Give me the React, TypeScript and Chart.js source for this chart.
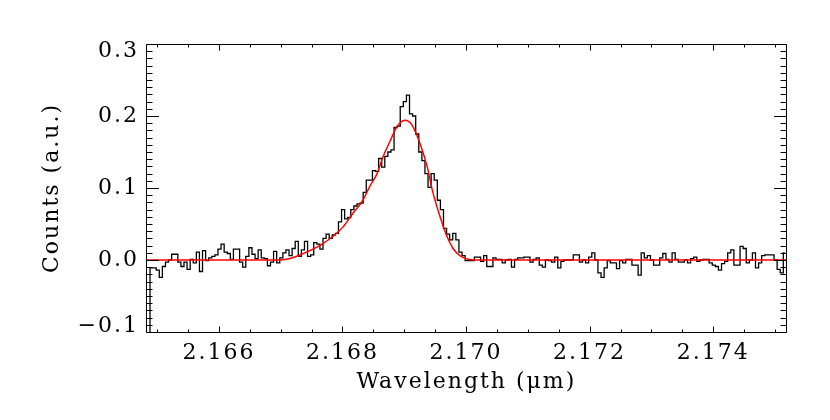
import React, { useEffect, useRef } from 'react';
import { Chart, registerables } from 'chart.js';

Chart.register(...registerables);

// ---- data ----
const BIN_START = 2.16486; // wavelength of the first bin (um)
const BIN_WIDTH = 0.00005; // bin width (um)
const COUNTS = [
  -0.2, -0.011, -0.011, -0.014, -0.024, -0.009, -0.003, 0.0, 0.008, 0.008,
  -0.003, -0.009, -0.003, -0.013, 0.001, -0.004, 0.011, -0.016, 0.013, -0.001,
  0.003, 0.005, 0.007, 0.015, 0.022, 0.011, 0.009, 0.001, 0.015, 0.015,
  -0.003, -0.01, 0.005, 0.017, 0.008, 0.002, 0.014, 0.003, 0.002, -0.008,
  -0.003, 0.012, -0.004, 0.003, 0.01, 0.014, 0.006, 0.016, 0.026, 0.005,
  0.014, 0.026, 0.005, 0.007, 0.024, 0.022, 0.015, 0.03, 0.036, 0.03,
  0.035, 0.037, 0.053, 0.07, 0.057, 0.059, 0.07, 0.075, 0.078, 0.079,
  0.094, 0.111, 0.111, 0.124, 0.123, 0.141, 0.129, 0.144, 0.15, 0.153,
  0.184, 0.186, 0.213, 0.22, 0.229, 0.203, 0.2, 0.175, 0.15, 0.138,
  0.12, 0.101, 0.12, 0.111, 0.083, 0.07, 0.044, 0.036, 0.028, 0.037,
  0.028, 0.011, 0.006, -0.001, -0.001, -0.001, 0.004, 0.004, -0.002, 0.006,
  -0.009, -0.009, 0.003, 0.001, 0.001, -0.004, 0.0, 0.001, -0.01, 0.001,
  0.003, 0.003, 0.004, 0.004, -0.003, 0.001, 0.003, -0.007, -0.01, 0.0,
  -0.001, -0.003, 0.004, -0.011, -0.002, 0.0, 0.0, 0.0, 0.007, 0.007,
  -0.003, 0.0, -0.004, 0.004, 0.01, 0.0, -0.018, -0.024, -0.011, -0.001,
  -0.004, -0.004, -0.012, -0.001, -0.004, 0.001, 0.001, -0.007, -0.007, -0.021,
  0.01, 0.003, 0.006, 0.0, -0.007, -0.007, 0.003, 0.009, 0.001, -0.003,
  0.01, 0.001, -0.003, -0.003, 0.0, -0.004, 0.002, 0.004, -0.002, 0.0,
  0.001, 0.001, -0.004, -0.007, -0.009, -0.014, -0.005, -0.002, 0.01, 0.014,
  -0.007, -0.007, 0.019, 0.016, -0.004, 0.0, 0.01, -0.011, -0.004, 0.006,
  0.007, 0.007, 0.007, 0.0, -0.013, -0.018, 0.01,
];

const FIT_WAVELENGTHS = [
  2.16482, 2.16699, 2.16715, 2.16731, 2.16763, 2.16785, 2.16801, 2.16817,
  2.16833, 2.16844, 2.16856, 2.16865, 2.16877, 2.16888, 2.16901, 2.16912,
  2.16925, 2.16937, 2.16946, 2.16958, 2.16969, 2.16979, 2.1699, 2.17003,
  2.17016, 2.17519,
];
const FIT_VALUES = [
  0.0, 0.0, 0.002, 0.007, 0.02, 0.033, 0.046, 0.065,
  0.083, 0.102, 0.12, 0.142, 0.165, 0.185, 0.194, 0.188,
  0.163, 0.13, 0.095, 0.06, 0.033, 0.016, 0.006, 0.001,
  0.0, 0.0,
];

const X_MIN = 2.16482;
const X_MAX = 2.17519;
const Y_MIN = -0.1;
const Y_MAX = 0.3;
const X_TICKS = [2.166, 2.168, 2.17, 2.172, 2.174];
const X_TICK_LABELS = ['2.166', '2.168', '2.170', '2.172', '2.174'];
const Y_TICKS = [-0.1, 0.0, 0.1, 0.2, 0.3];
const Y_TICK_LABELS = ['\u22120.1', '0.0', '0.1', '0.2', '0.3'];
const X_MINOR_STEP = 0.0005;
const Y_MINOR_STEP = 0.01;
const X_TITLE = 'Wavelength (\u03bcm)';
const Y_TITLE = 'Counts (a.u.)';

const FONT = 'DejaVu Serif';
const FONT_SIZE = 22;

const framePlugin = {
  id: 'frame',
  beforeDraw(chart: any) {
    const ctx = chart.ctx;
    ctx.letterSpacing = '2px';
    const ys = chart.scales.y;
    const items = ys.getLabelItems(chart.chartArea);
    items.forEach((it: any) => {
      if (it._adj) return;
      if (it.label === '0.3') it.options.translation[1] += 7;
      if (it.label === '\u22120.1') it.options.translation[1] -= 6;
      it._adj = true;
    });
  },
  afterDraw(chart: any) {
    const ctx = chart.ctx;
    const { left, right, top, bottom } = chart.chartArea;
    const xs = chart.scales.x;
    const ys = chart.scales.y;
    const L = Math.round(left) + 0.5;
    const R = Math.round(right) - 0.5;
    const T = Math.round(top) + 0.5;
    const B = Math.round(bottom) + 0.5;
    ctx.save();
    ctx.strokeStyle = '#000';
    ctx.lineWidth = 1;
    ctx.beginPath();
    ctx.rect(L, T, R - L, B - T);
    const xMajor = 6, xMinor = 3, yMajor = 12.5, yMinor = 6;
    const k0 = Math.ceil(X_MIN / X_MINOR_STEP - 1e-6);
    const k1 = Math.floor(X_MAX / X_MINOR_STEP + 1e-6);
    for (let k = k0; k <= k1; k++) {
      const v = k * X_MINOR_STEP;
      const px = Math.round(xs.getPixelForValue(v)) + 0.5;
      const major = X_TICKS.some((t) => Math.abs(t - v) < 1e-7);
      const len = major ? xMajor : xMinor;
      ctx.moveTo(px, B);
      ctx.lineTo(px, B - len);
      ctx.moveTo(px, T);
      ctx.lineTo(px, T + len);
    }
    const j0 = Math.ceil(Y_MIN / Y_MINOR_STEP - 1e-6);
    const j1 = Math.floor(Y_MAX / Y_MINOR_STEP + 1e-6);
    for (let j = j0; j <= j1; j++) {
      const v = j * Y_MINOR_STEP;
      const py = Math.round(ys.getPixelForValue(v)) + 0.5;
      const major = Y_TICKS.some((t) => Math.abs(t - v) < 1e-7);
      const len = major ? yMajor : yMinor;
      ctx.moveTo(L, py);
      ctx.lineTo(L + len, py);
      ctx.moveTo(R, py);
      ctx.lineTo(R - len, py);
    }
    ctx.stroke();
    ctx.restore();
  },
};

export default function App() {
  const ref = useRef<HTMLCanvasElement | null>(null);
  useEffect(() => {
    if (!ref.current) return;
    const hist = COUNTS.map((v, i) => ({ x: BIN_START + i * BIN_WIDTH, y: v }));
    const fit = FIT_WAVELENGTHS.map((w, i) => ({ x: w, y: FIT_VALUES[i] }));
    const chart = new Chart(ref.current, {
      type: 'line',
      data: {
        datasets: [
          {
            label: 'fit',
            data: fit,
            borderColor: '#ff0000',
            borderWidth: 1.5,
            pointRadius: 0,
            fill: false,
            cubicInterpolationMode: 'monotone',
          },
          {
            label: 'spectrum',
            data: hist,
            borderColor: '#000000',
            borderWidth: 1.3,
            pointRadius: 0,
            fill: false,
            stepped: 'middle',
          },
        ],
      },
      options: {
        animation: false,
        responsive: false,
        devicePixelRatio: 1,
        layout: { padding: { left: 0, top: 44, right: 43.3, bottom: 0 } },
        plugins: { legend: { display: false }, tooltip: { enabled: false }, title: { display: false } },
        scales: {
          x: {
            type: 'linear',
            min: X_MIN,
            max: X_MAX,
            grid: { display: false, drawTicks: false },
            border: { display: false },
            afterFit: (s: any) => { s.height = 88; },
            afterBuildTicks: (s: any) => { s.ticks = X_TICKS.map((v) => ({ value: v })); },
            ticks: {
              autoSkip: false,
              maxRotation: 0,
              minRotation: 0,
              padding: 8,
              color: '#000',
              font: { family: FONT, size: FONT_SIZE },
              callback: (_v: any, i: number) => X_TICK_LABELS[i],
            },
            title: {
              display: true,
              text: X_TITLE,
              color: '#000',
              font: { family: FONT, size: FONT_SIZE },
              padding: { top: 0, bottom: 25 },
            },
          },
          y: {
            type: 'linear',
            min: Y_MIN,
            max: Y_MAX,
            grid: { display: false, drawTicks: false },
            border: { display: false },
            afterFit: (s: any) => { s.width = 146; },
            afterBuildTicks: (s: any) => { s.ticks = Y_TICKS.map((v) => ({ value: v })); },
            ticks: {
              padding: 7,
              color: '#000',
              font: { family: FONT, size: FONT_SIZE },
              callback: (_v: any, i: number) => Y_TICK_LABELS[i],
            },
            title: {
              display: true,
              text: Y_TITLE,
              color: '#000',
              font: { family: FONT, size: FONT_SIZE },
              padding: { top: 39, bottom: 0 },
            },
          },
        },
      },
      plugins: [framePlugin],
    } as any);
    return () => chart.destroy();
  }, []);
  return (
    <div style={{ position: 'fixed', left: 0, top: 0, width: 830, height: 420, background: '#fff' }}>
      <canvas ref={ref} width={830} height={420} style={{ display: 'block' }} />
    </div>
  );
}
